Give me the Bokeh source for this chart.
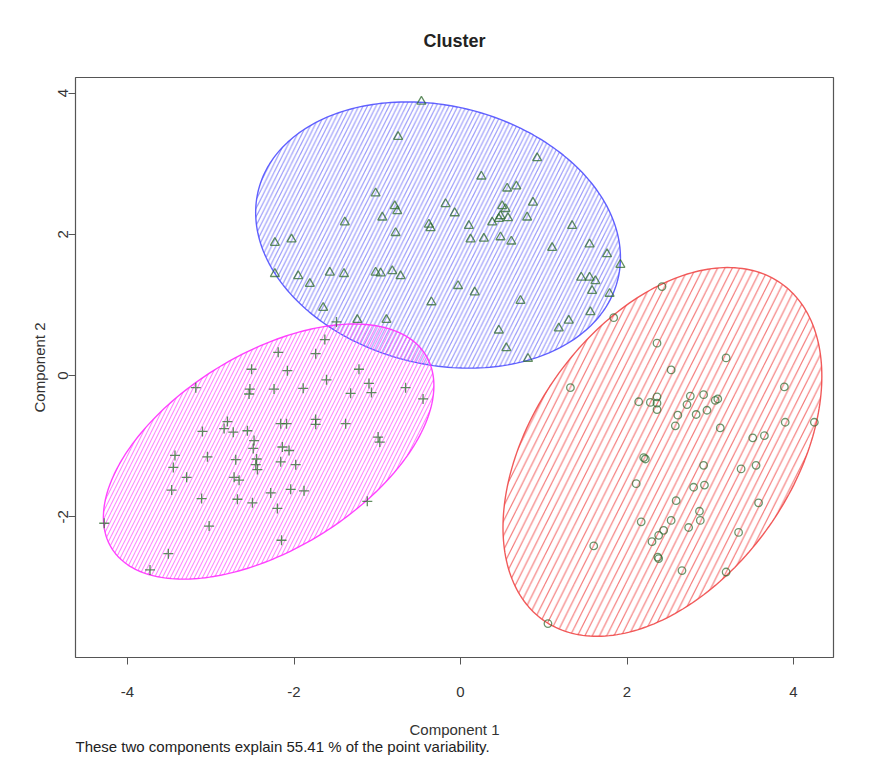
import numpy as np
from bokeh.plotting import figure
from bokeh.models import Range1d, FixedTicker, Title
from bokeh.embed import file_html
from bokeh.resources import INLINE

# ---- data ----
# cluster 1 (red ellipse, circles)
red_x = [2.42, 1.84, 2.36, 3.19, 2.53, 1.32, 3.89, 2.14, 2.28, 2.36, 2.36, 2.36, 2.76,
         2.92, 2.72, 3.06, 3.09, 2.96, 2.83, 2.61, 2.58, 3.12, 3.90, 4.25, 3.51, 3.65,
         2.20, 2.22, 2.92, 3.37, 3.55, 2.11, 2.80, 2.93, 2.59, 3.58, 2.87, 2.88, 2.17,
         2.53, 2.74, 2.44, 2.38, 2.30, 3.34, 1.60, 2.38, 2.37, 2.66, 3.19, 1.05]
red_y = [1.26, 0.82, 0.46, 0.25, 0.08, -0.17, -0.16, -0.37, -0.38, -0.30, -0.39, -0.48, -0.29,
         -0.27, -0.41, -0.35, -0.33, -0.49, -0.55, -0.56, -0.71, -0.74, -0.66, -0.66, -0.88, -0.85,
         -1.16, -1.18, -1.27, -1.32, -1.27, -1.53, -1.58, -1.55, -1.77, -1.80, -1.92, -2.05, -2.07,
         -2.05, -2.15, -2.19, -2.26, -2.35, -2.22, -2.41, -2.59, -2.57, -2.76, -2.78, -3.51]

# cluster 2 (blue ellipse, triangles)
blue_x = [-0.47, -0.75, 0.92, 0.25, 0.56, 0.67, -1.02, -0.18, -0.07, -0.79, -0.76, -0.94,
          -1.39, -0.78, -0.38, -0.36, 0.50, 0.54, 0.48, 0.57, 0.87, 0.80, 0.38, 0.46, 0.10,
          1.34, 0.12, 0.28, 0.48, 0.61, -2.23, -2.03, 1.10, 1.55, 1.76, 1.92, -2.23, -1.95,
          -1.81, -1.57, -1.40, -1.02, -0.96, -0.82, -0.72, 1.45, 1.55, 1.62, 1.58, 1.79,
          -0.03, 0.17, -0.35, 0.72, -1.65, 1.56, -1.24, -0.89, 1.30, 1.18, 0.46, 0.55, 0.81]
blue_y = [3.88, 3.38, 3.08, 2.82, 2.65, 2.68, 2.58, 2.43, 2.30, 2.40, 2.33, 2.24,
          2.17, 2.02, 2.14, 2.09, 2.40, 2.36, 2.26, 2.23, 2.45, 2.24, 2.17, 2.22, 2.12,
          2.12, 1.93, 1.94, 1.96, 1.90, 1.88, 1.93, 1.81, 1.86, 1.72, 1.57, 1.44, 1.41,
          1.30, 1.46, 1.44, 1.46, 1.45, 1.48, 1.41, 1.39, 1.39, 1.34, 1.20, 1.16,
          1.27, 1.18, 1.04, 1.06, 0.96, 0.90, 0.79, 0.79, 0.78, 0.67, 0.64, 0.39, 0.24]

# cluster 3 (magenta ellipse, crosses)
mag_x = [-1.49, -1.63, -2.19, -1.74, -2.51, -2.08, -1.22, -1.61, -3.18, -2.53, -2.54, -2.24,
         -1.89, -1.10, -1.07, -1.32, -0.66, -0.45, -2.80, -2.84, -2.73, -2.56, -3.10, -2.48,
         -2.49, -2.16, -2.09, -1.74, -1.74, -1.38, -0.99, -0.97, -3.43, -3.45, -3.04, -2.70,
         -2.45, -2.46, -2.44, -2.14, -2.06, -2.16, -1.98, -3.29, -2.72, -2.66, -3.47, -3.11,
         -2.68, -2.50, -2.28, -2.04, -1.88, -2.20, -1.12, -4.28, -3.02, -2.15, -3.51, -3.73]
mag_y = [0.76, 0.51, 0.33, 0.31, 0.09, 0.07, 0.09, -0.06, -0.17, -0.19, -0.26, -0.19,
         -0.18, -0.11, -0.24, -0.25, -0.17, -0.33, -0.65, -0.75, -0.80, -0.78, -0.79, -0.92,
         -1.03, -0.68, -0.68, -0.62, -0.69, -0.68, -0.87, -0.94, -1.13, -1.30, -1.15, -1.19,
         -1.18, -1.26, -1.33, -1.01, -1.06, -1.22, -1.26, -1.44, -1.44, -1.48, -1.62, -1.74,
         -1.75, -1.80, -1.66, -1.61, -1.63, -1.88, -1.78, -2.09, -2.13, -2.33, -2.52, -2.75]

# cluster ellipses: centre and spread matrix [[sxx, sxy], [sxy, syy]]
ell_cx = [2.425, -0.27, -2.305]
ell_cy = [-1.08, 1.99, -1.075]
ell_sxx = [3.667, 4.80, 3.94]
ell_syy = [6.81, 3.55, 3.26]
ell_sxy = [2.05, -0.70, 1.85]

x_ticks = [-4, -2, 0, 2, 4]
y_ticks = [-2, 0, 2, 4]
explained = 55.41

# ---- figure ----
FONT = "Liberation Sans"
p = figure(width=868, height=756, output_backend="svg", toolbar_location=None,
           x_range=Range1d(-4.625, 4.48), y_range=Range1d(-3.99, 4.22),
           min_border_left=75, min_border_right=35, min_border_top=77, min_border_bottom=99)
p.background_fill_color = "white"
p.border_fill_color = "white"
p.outline_line_color = "#555555"
p.outline_line_width = 1.2
p.grid.visible = False

p.title.text = "Cluster"
p.title.align = "center"
p.title.text_font = FONT
p.title.text_font_size = "18px"
p.title.text_font_style = "bold"
p.title.text_color = "#222222"
p.title.standoff = 53

for ax, ticks in ((p.xaxis, x_ticks), (p.yaxis, y_ticks)):
    ax.ticker = FixedTicker(ticks=ticks)
    ax.major_label_overrides = {tk: str(tk) for tk in ticks}
    ax.axis_line_color = None
    ax.major_tick_in = 0
    ax.major_tick_out = 7
    ax.major_tick_line_color = "#555555"
    ax.minor_tick_line_color = None
    ax.major_label_text_font = FONT
    ax.major_label_text_font_size = "15px"
    ax.major_label_text_color = "#333333"
    ax.axis_label_text_font = FONT
    ax.axis_label_text_font_size = "15px"
    ax.axis_label_text_font_style = "normal"
    ax.axis_label_text_color = "#333333"

p.xaxis.axis_label = "Component 1"
p.xaxis.major_label_standoff = 22
p.xaxis.axis_label_standoff = 21
p.yaxis.axis_label = "Component 2"
p.yaxis.major_label_orientation = "vertical"
p.yaxis.major_label_standoff = 0
p.yaxis.axis_label_standoff = 8

sub = Title(text=f"These two components explain {explained} % of the point variability.",
            align="left", text_font=FONT, text_font_size="15px",
            text_font_style="normal", text_color="#222222", standoff=-10)
p.add_layout(sub, "below")

# ---- ellipses with hatching ----
line_cols = ["#f04848", "#5050ff", "#ff30ff"]
hatch_cols = ["#f25a5a", "#5c5cf8", "#ff50ff"]
hatch_alphas = [0.85, 0.65, 0.7]
hatch_scales = [14.6, 8.6, 8.0]
t = np.linspace(0, 2 * np.pi, 241)
for cx, cy, sxx, syy, sxy, lc, hc, ha, hs in zip(ell_cx, ell_cy, ell_sxx, ell_syy, ell_sxy,
                                               line_cols, hatch_cols, hatch_alphas, hatch_scales):
    l11 = np.sqrt(sxx)
    l21 = sxy / l11
    l22 = np.sqrt(syy - l21 ** 2)
    ex = cx + l11 * np.cos(t)
    ey = cy + l21 * np.cos(t) + l22 * np.sin(t)
    p.patch(ex, ey, fill_color=None, line_color=lc, line_width=1.4, line_alpha=0.9,
            hatch_pattern="/", hatch_color=hc, hatch_scale=hs, hatch_weight=1.1,
            hatch_alpha=ha)

# ---- points ----
pt_col = "#2d6a2d"
p.scatter(red_x, red_y, marker="circle", size=7.5, fill_color=None,
          line_color=pt_col, line_width=1.3, line_alpha=0.7)
p.scatter(blue_x, blue_y, marker="triangle", size=9, fill_color=None,
          line_color=pt_col, line_width=1.3, line_alpha=0.75)
p.scatter(mag_x, mag_y, marker="cross", size=10, fill_color=None,
          line_color=pt_col, line_width=1.3, line_alpha=0.75)

open("out.html", "w").write(file_html(p, INLINE))
